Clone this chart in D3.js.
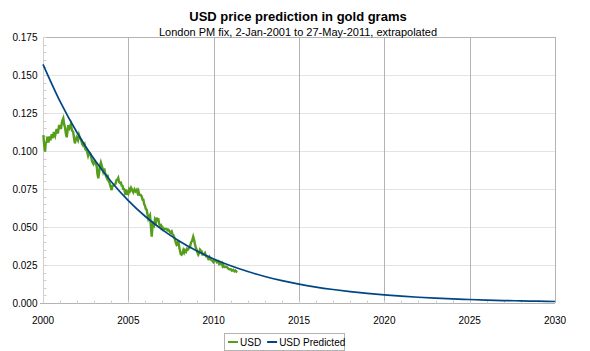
<!DOCTYPE html>
<html>
<head>
<meta charset="utf-8">
<script src="https://cdn.jsdelivr.net/npm/d3@7"></script>
<style>
  body { margin: 0; background: #fff; }
  svg { display: block; font-family: "Liberation Sans", Arial, sans-serif; }
</style>
</head>
<body>
<script>
// years since 2000 (plot axis) and observed USD value in gold grams
const usdT = [0.02,0.07,0.12,0.16,0.22,0.26,0.32,0.38,0.44,0.51,0.57,0.64,0.71,0.80,0.87,0.94,1.00,1.05,1.12,1.19,
  1.24,1.29,1.34,1.39,1.44,1.48,1.55,1.63,1.70,1.77,1.83,1.87,1.92,1.97,2.05,2.11,2.17,2.23,2.30,2.36,
  2.43,2.49,2.56,2.64,2.69,2.75,2.81,2.88,2.95,3.02,3.08,3.15,3.19,3.24,3.29,3.34,3.39,3.44,3.49,3.53,
  3.59,3.63,3.69,3.73,3.78,3.83,3.90,3.95,4.02,4.07,4.12,4.19,4.25,4.31,4.36,4.41,4.46,4.51,4.56,4.61,
  4.66,4.70,4.76,4.80,4.86,4.90,4.95,5.00,5.05,5.10,5.16,5.20,5.24,5.29,5.36,5.42,5.49,5.54,5.59,5.64,
  5.68,5.73,5.78,5.83,5.88,5.93,5.98,6.02,6.07,6.12,6.17,6.22,6.27,6.31,6.37,6.41,6.46,6.51,6.56,6.62,
  6.66,6.71,6.75,6.81,6.85,6.91,6.95,7.00,7.05,7.12,7.18,7.25,7.29,7.35,7.41,7.47,7.54,7.59,7.63,7.69,
  7.73,7.79,7.83,7.88,7.93,7.98,8.03,8.07,8.12,8.17,8.22,8.27,8.32,8.38,8.44,8.49,8.55,8.61,8.67,8.73,
  8.80,8.86,8.90,8.96,9.00,9.05,9.10,9.15,9.20,9.26,9.30,9.34,9.39,9.44,9.49,9.55,9.61,9.68,9.74,9.78,
  9.84,9.88,9.93,9.98,10.03,10.08,10.13,10.19,10.27,10.32,10.37,10.43,10.47,10.52,10.56,10.61,10.66,10.72,10.78,10.85,
  10.91,10.95,11.01,11.07,11.15,11.22,11.28,11.35,11.39];
const usdV = [0.1105,0.104,0.0996,0.1055,0.106,0.1095,0.1055,0.1095,0.107,0.111,0.1085,0.1125,0.110,0.1145,0.1115,0.1165,0.1165,0.1145,0.1195,0.1215,
  0.1175,0.1155,0.1115,0.109,0.1135,0.117,0.115,0.1175,0.1135,0.1125,0.1075,0.105,0.1075,0.109,0.107,0.1105,0.1085,0.1075,0.1045,0.1035,
  0.1045,0.101,0.1005,0.097,0.099,0.0985,0.0965,0.093,0.0915,0.0935,0.092,0.0897,0.085,0.082,0.086,0.0905,0.0925,0.0905,0.0885,0.0864,
  0.0885,0.086,0.0835,0.0825,0.0845,0.0805,0.079,0.077,0.0743,0.077,0.0772,0.078,0.0785,0.081,0.081,0.0822,0.0795,0.079,0.0792,0.0772,
  0.077,0.075,0.0748,0.0728,0.0748,0.0712,0.0728,0.072,0.0748,0.0738,0.0758,0.075,0.0738,0.0728,0.0748,0.0735,0.0745,0.0725,0.0738,0.0712,
  0.0712,0.071,0.0702,0.068,0.068,0.065,0.0638,0.062,0.0615,0.0585,0.0555,0.0568,0.0578,0.0522,0.0436,0.0492,0.0522,0.0512,0.0548,0.0532,
  0.0562,0.054,0.0558,0.0518,0.0508,0.0512,0.0492,0.0498,0.0482,0.0488,0.0487,0.0486,0.0478,0.0482,0.0472,0.0462,0.0471,0.0452,0.0449,0.0432,
  0.0418,0.0392,0.0382,0.0388,0.0414,0.0368,0.0342,0.0322,0.0318,0.0328,0.0347,0.0332,0.0347,0.0338,0.0357,0.0352,0.0362,0.0368,0.0397,0.0408,
  0.0436,0.0412,0.0388,0.0362,0.0351,0.0332,0.0318,0.0328,0.0351,0.0342,0.034,0.0318,0.0318,0.0322,0.0329,0.0308,0.0307,0.0292,0.0302,0.0288,
  0.0287,0.0281,0.0277,0.027,0.0282,0.0283,0.0277,0.0268,0.0274,0.0258,0.0267,0.0258,0.0263,0.0244,0.0252,0.0238,0.0237,0.0238,0.0236,0.0226,
  0.0222,0.0223,0.0222,0.0213,0.0218,0.0208,0.0213,0.0205,0.0203];

// predicted curve read at each year
const predYears = d3.range(2000, 2031);
const predV = [0.157,0.1326,0.112,0.0945,0.0798,0.0674,0.0569,0.0481,0.0406,0.0343,0.0290,0.0245,0.0207,0.0174,0.0147,0.0124,
  0.0105,0.0089,0.0075,0.0063,0.0053,0.0045,0.0038,0.0032,0.0027,0.0023,0.0019,0.0016,0.0014,0.0012,0.0010];

const xTicks = [2000, 2005, 2010, 2015, 2020, 2025, 2030];
const yTicks = [0, 0.025, 0.05, 0.075, 0.1, 0.125, 0.15, 0.175];

const W = 590, H = 351;
const m = {top: 37, right: 35, bottom: 48, left: 43};

const svg = d3.select('body').append('svg')
    .attr('width', W)
    .attr('height', H);

const x = d3.scaleLinear().domain([2000, 2030]).range([m.left, W - m.right]);
const y = d3.scaleLinear().domain([0, 0.175]).range([H - m.bottom, m.top]);

// horizontal grid
svg.append('g')
    .selectAll('line')
    .data(yTicks.slice(1, -1))
    .join('line')
    .attr('x1', m.left).attr('x2', W - m.right)
    .attr('y1', d => Math.round(y(d)) + 0.5).attr('y2', d => Math.round(y(d)) + 0.5)
    .attr('stroke', '#e3e3e3');

// vertical grid + top border
svg.append('g')
    .selectAll('line')
    .data(xTicks.slice(1))
    .join('line')
    .attr('x1', d => Math.round(x(d)) + 0.5).attr('x2', d => Math.round(x(d)) + 0.5)
    .attr('y1', m.top).attr('y2', H - m.bottom)
    .attr('stroke', '#b3b3b3');
svg.append('line')
    .attr('x1', m.left).attr('x2', W - m.right)
    .attr('y1', Math.round(y(0.175)) + 0.5).attr('y2', Math.round(y(0.175)) + 0.5)
    .attr('stroke', '#b3b3b3');

// y axis with minor ticks inside
const yAxis = svg.append('g')
    .attr('transform', `translate(${Math.round(x(2000)) + 0.5},0)`);
yAxis.append('line')
    .attr('y1', m.top).attr('y2', H - m.bottom)
    .attr('stroke', '#d0d0d0');
yAxis.selectAll('.minor')
    .data(d3.range(0, 0.1751, 0.005))
    .join('line')
    .attr('x1', 0).attr('x2', 3)
    .attr('y1', d => Math.round(y(d)) + 0.5).attr('y2', d => Math.round(y(d)) + 0.5)
    .attr('stroke', '#d0d0d0');
yAxis.selectAll('text')
    .data(yTicks)
    .join('text')
    .attr('x', -6)
    .attr('y', d => y(d))
    .attr('dy', '0.35em')
    .attr('text-anchor', 'end')
    .attr('font-size', 10)
    .attr('fill', '#000')
    .text(d3.format('.3f'));

// x axis
const xAxis = svg.append('g')
    .attr('transform', `translate(0,${Math.round(y(0)) + 0.5})`);
xAxis.append('line')
    .attr('x1', m.left - 3).attr('x2', W - m.right)
    .attr('stroke', '#b3b3b3');
xAxis.selectAll('.minor')
    .data(d3.range(2001, 2030))
    .join('line')
    .attr('x1', d => Math.round(x(d)) + 0.5).attr('x2', d => Math.round(x(d)) + 0.5)
    .attr('y1', 0).attr('y2', -3)
    .attr('stroke', '#d0d0d0');
xAxis.selectAll('text')
    .data(xTicks)
    .join('text')
    .attr('x', d => x(d))
    .attr('y', 20)
    .attr('text-anchor', 'middle')
    .attr('font-size', 10)
    .attr('fill', '#000')
    .text(d => d);

// series
const usd = usdT.map((t, i) => [2000 + t, usdV[i]]);
const pred = predYears.map((yr, i) => [yr, predV[i]]);

svg.append('path')
    .datum(usd)
    .attr('fill', 'none')
    .attr('stroke', '#579d1c')
    .attr('stroke-width', 2.4)
    .attr('stroke-linejoin', 'miter')
    .attr('d', d3.line().x(d => x(d[0])).y(d => y(d[1])));

svg.append('path')
    .datum(pred)
    .attr('fill', 'none')
    .attr('stroke', '#004586')
    .attr('stroke-width', 1.7)
    .attr('d', d3.line().curve(d3.curveMonotoneX).x(d => x(d[0])).y(d => y(d[1])));

// titles
svg.append('text')
    .attr('x', 298).attr('y', 21)
    .attr('text-anchor', 'middle')
    .attr('font-size', 13)
    .attr('font-weight', 'bold')
    .text('USD price prediction in gold grams');
svg.append('text')
    .attr('x', 298).attr('y', 36)
    .attr('text-anchor', 'middle')
    .attr('font-size', 11)
    .text('London PM fix, 2-Jan-2001 to 27-May-2011, extrapolated');

// legend
const legendItems = [
    {name: 'USD', color: '#579d1c'},
    {name: 'USD Predicted', color: '#004586'}
];
const lg = svg.append('g').attr('transform', 'translate(224,333)');
lg.append('rect')
    .attr('x', 0.5).attr('y', 0.5)
    .attr('width', 120).attr('height', 17)
    .attr('fill', '#fff')
    .attr('stroke', '#b3b3b3');
let lx = 4;
legendItems.forEach(it => {
    lg.append('line')
        .attr('x1', lx).attr('x2', lx + 10)
        .attr('y1', 9).attr('y2', 9)
        .attr('stroke', it.color).attr('stroke-width', 2);
    const t = lg.append('text')
        .attr('x', lx + 12).attr('y', 12.5)
        .attr('font-size', 10)
        .text(it.name);
    lx += 12 + t.node().getComputedTextLength() + 6;
});
</script>
</body>
</html>
